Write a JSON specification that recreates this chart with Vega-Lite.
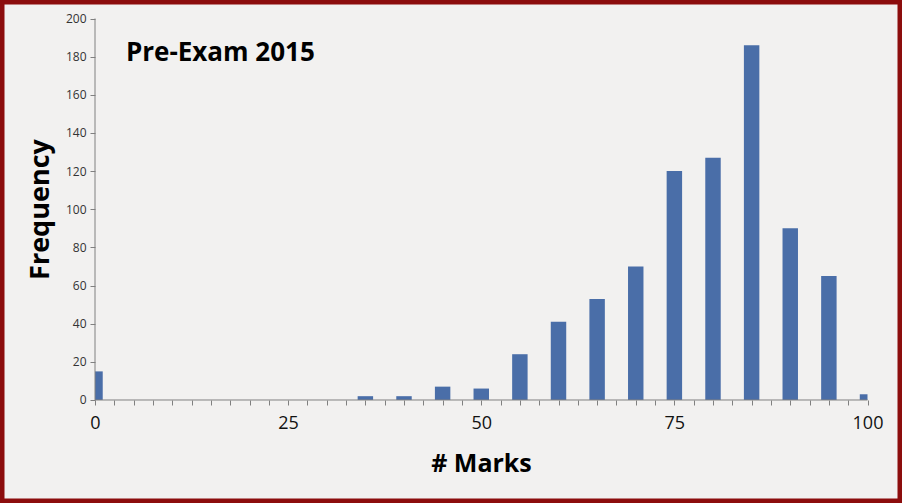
{
  "$schema": "https://vega.github.io/schema/vega-lite/v6.json",
  "width": 902,
  "height": 503,
  "autosize": "none",
  "padding": 0,
  "background": "#f2f1f0",
  "config": {
    "view": {"stroke": "#8c0d0d", "strokeWidth": 9, "fill": "#f2f1f0"},
    "font": "Open Sans"
  },
  "layer": [
    {
      "data": {
        "values": [
          {"Marks": 0, "Frequency": 15},
          {"Marks": 5, "Frequency": 0},
          {"Marks": 10, "Frequency": 0},
          {"Marks": 15, "Frequency": 0},
          {"Marks": 20, "Frequency": 0},
          {"Marks": 25, "Frequency": 0},
          {"Marks": 30, "Frequency": 0},
          {"Marks": 35, "Frequency": 2},
          {"Marks": 40, "Frequency": 2},
          {"Marks": 45, "Frequency": 7},
          {"Marks": 50, "Frequency": 6},
          {"Marks": 55, "Frequency": 24},
          {"Marks": 60, "Frequency": 41},
          {"Marks": 65, "Frequency": 53},
          {"Marks": 70, "Frequency": 70},
          {"Marks": 75, "Frequency": 120},
          {"Marks": 80, "Frequency": 127},
          {"Marks": 85, "Frequency": 186},
          {"Marks": 90, "Frequency": 90},
          {"Marks": 95, "Frequency": 65},
          {"Marks": 100, "Frequency": 3}
        ]
      },
      "transform": [
        {"calculate": "max(0, datum.Marks - 1)", "as": "lo"},
        {"calculate": "min(100, datum.Marks + 1)", "as": "hi"}
      ],
      "mark": {"type": "bar", "color": "#4a6ea8"},
      "encoding": {
        "x": {
          "field": "lo",
          "type": "quantitative",
          "scale": {"domain": [-12.298, 104.466], "nice": false, "zero": false},
          "axis": {
            "orient": "bottom",
            "offset": -103,
            "domain": false,
            "grid": false,
            "values": [0, 2.5, 5, 7.5, 10, 12.5, 15, 17.5, 20, 22.5, 25, 27.5, 30, 32.5, 35, 37.5, 40, 42.5, 45, 47.5, 50, 52.5, 55, 57.5, 60, 62.5, 65, 67.5, 70, 72.5, 75, 77.5, 80, 82.5, 85, 87.5, 90, 92.5, 95, 97.5, 100],
            "tickCount": 60,
            "labelExpr": "datum.value % 25 === 0 ? datum.label : ''",
            "labelFontSize": 18,
            "labelColor": "#111111",
            "labelPadding": 9,
            "labelFlush": false,
            "labelOverlap": false,
            "tickSize": 5,
            "tickColor": "#808080",
            "tickWidth": 1,
            "title": "# Marks",
            "titleFontSize": 25,
            "titleFontWeight": "bold",
            "titleColor": "#000000",
            "titleX": 481,
            "titleY": 63,
            "titleBaseline": "middle",
            "titleAnchor": "middle"
          }
        },
        "x2": {"field": "hi"},
        "y": {
          "field": "Frequency",
          "type": "quantitative",
          "scale": {"domain": [-54.0, 209.7], "nice": false, "zero": false},
          "axis": {
            "orient": "left",
            "offset": -95,
            "domain": false,
            "grid": false,
            "values": [0, 20, 40, 60, 80, 100, 120, 140, 160, 180, 200],
            "tickCount": 20,
            "labelFontSize": 12,
            "labelColor": "#333333",
            "labelPadding": 4,
            "labelFlush": false,
            "tickSize": 5,
            "tickColor": "#808080",
            "title": "Frequency",
            "titleFontSize": 27,
            "titleFontWeight": "bold",
            "titleColor": "#000000",
            "titleAngle": -90,
            "titleX": -55,
            "titleY": 209,
            "titleBaseline": "middle",
            "titleAlign": "center"
          }
        },
        "y2": {"datum": 0}
      }
    },
    {
      "data": {"values": [{}]},
      "mark": {"type": "rule", "color": "#808080", "strokeWidth": 1},
      "encoding": {
        "x": {"datum": 0},
        "x2": {"datum": 100},
        "y": {"datum": 0}
      }
    },
    {
      "data": {"values": [{}]},
      "mark": {"type": "rule", "color": "#808080", "strokeWidth": 1},
      "encoding": {
        "x": {"datum": 0},
        "y": {"datum": 0},
        "y2": {"datum": 200}
      }
    },
    {
      "data": {"values": [{}]},
      "mark": {
        "type": "text",
        "text": "Pre-Exam 2015",
        "align": "left",
        "baseline": "middle",
        "fontSize": 26,
        "fontWeight": "bold",
        "color": "#000000"
      },
      "encoding": {
        "x": {"datum": 4},
        "y": {"datum": 182}
      }
    }
  ]
}
